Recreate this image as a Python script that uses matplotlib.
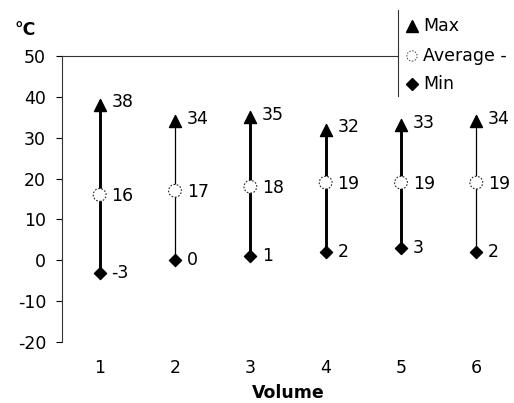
import matplotlib
matplotlib.use("Agg")
import matplotlib.pyplot as plt
from matplotlib.lines import Line2D

plt.rcParams['font.family'] = ['DejaVu Sans']

volumes = [1, 2, 3, 4, 5, 6]
max_vals = [38, 34, 35, 32, 33, 34]
avg_vals = [16, 17, 18, 19, 19, 19]
min_vals = [-3, 0, 1, 2, 3, 2]
line_widths = [2.1, 0.9, 2.1, 2.1, 2.1, 0.9]
yticks = [-20, -10, 0, 10, 20, 30, 40, 50]

W, H = 514, 403
fig = plt.figure(figsize=(W / 100, H / 100), dpi=100)
ax = fig.add_axes([62 / W, 1 - 342 / H, 1 - 62 / W, (342 - 56) / H])
ax.set_xlim(0.5, 6.5)
ax.set_ylim(-20, 50)

for x, lo, av, hi, lw in zip(volumes, min_vals, avg_vals, max_vals, line_widths):
    ax.plot([x, x], [lo, hi], color='black', lw=lw, zorder=1, solid_capstyle='butt')
ax.scatter(volumes, max_vals, marker='^', s=75, color='black', zorder=3)
ax.scatter(volumes, min_vals, marker='D', s=38, color='black', zorder=3)
ax.scatter(volumes, avg_vals, marker='o', s=85, facecolor='white', edgecolor='#222222',
           linewidths=0.8, linestyles=(0, (1.5, 1.5)), zorder=3)

fs = 12.5
for x, lo, av, hi in zip(volumes, min_vals, avg_vals, max_vals):
    ax.annotate(str(hi), (x, hi), xytext=(8.5, 2), textcoords='offset points', va='center', ha='left', fontsize=fs)
    ax.annotate(str(av), (x, av), xytext=(8.5, -1), textcoords='offset points', va='center', ha='left', fontsize=fs)
    ax.annotate(str(lo), (x, lo), xytext=(8.5, 0), textcoords='offset points', va='center', ha='left', fontsize=fs)

for s in ['right', 'bottom', 'top']:
    ax.spines[s].set_visible(False)
ax.spines['left'].set_color('#333333')
ax.set_yticks(yticks)
ax.set_yticklabels([str(v) for v in yticks], fontsize=fs)
ax.tick_params(axis='y', direction='out', length=4.5, width=0.8, pad=7)
ax.set_xticks(volumes)
ax.set_xticklabels([str(v) for v in volumes], fontsize=fs)
ax.tick_params(axis='x', length=0, pad=12)
ax.set_xlabel('Volume', fontsize=fs, fontweight='bold', labelpad=5)

fig.text(14 / W, 1 - 30 / H, '°C', fontsize=fs, fontweight='bold', va='center', ha='left')

# top border line stopping at the legend
fig.add_artist(Line2D([62 / W, 398 / W], [1 - 56 / H, 1 - 56 / H], color='#333333', lw=0.8))
# legend
fig.add_artist(Line2D([398 / W, 398 / W], [1 - 10 / H, 1 - 96 / H], color='#333333', lw=0.8))
lx = 412 / W
fig.add_artist(Line2D([lx], [1 - 26 / H], marker='^', linestyle='none', markerfacecolor='black',
                      markeredgecolor='black', markersize=8))
ax.scatter([lx], [1 - 56 / H], marker='o', s=55, facecolor='white', edgecolor='#444444',
           linewidths=0.7, linestyles=(0, (1.5, 1.5)), transform=fig.transFigure, clip_on=False, zorder=5)
fig.add_artist(Line2D([lx], [1 - 84 / H], marker='D', linestyle='none', markerfacecolor='black',
                      markeredgecolor='black', markersize=6))
for label, y in [('Max', 26), ('Average -', 56), ('Min', 84)]:
    fig.text(423 / W, 1 - y / H, label, fontsize=fs, va='center', ha='left')

fig.savefig('out.png', dpi=100)
